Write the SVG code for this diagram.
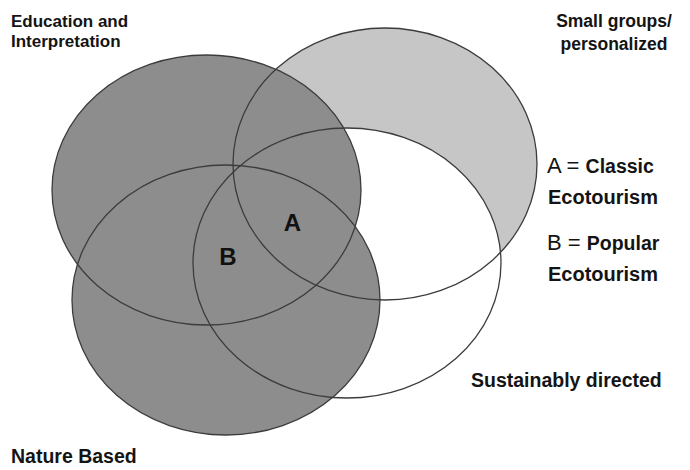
<svg xmlns="http://www.w3.org/2000/svg" xmlns:xlink="http://www.w3.org/1999/xlink" width="690" height="470" viewBox="0 0 690 470">
<style>
.lbl{font-family:"Liberation Sans",Arial,sans-serif;font-weight:bold;fill:#141414}
.big{font-family:"Liberation Sans",Arial,sans-serif;font-weight:bold;fill:#111;font-size:24px;text-anchor:middle}
.eq{font-family:"Liberation Sans",Arial,sans-serif;font-weight:normal;fill:#141414;font-size:22px}
.dark{fill:#8d8d8d}
.light{fill:#c6c6c6}
.white{fill:#ffffff}
.outline{fill:none;stroke:#3c3c3c;stroke-width:1.3}
</style>
<defs>
<ellipse id="e-small" cx="385" cy="164" rx="152" ry="136"/>
<ellipse id="e-sust" cx="347" cy="263" rx="154" ry="135"/>
<ellipse id="e-edu" cx="206.5" cy="190" rx="154.5" ry="135"/>
<ellipse id="e-nat" cx="226" cy="300" rx="154" ry="135"/>
</defs>
<rect x="0" y="0" width="690" height="470" fill="#ffffff"/>
<g id="small-groups">
<use xlink:href="#e-small" class="light"/>
<text class="lbl" font-size="17.5" text-anchor="middle"><tspan x="614" y="27">Small groups/</tspan><tspan x="614" y="50">personalized</tspan></text>
</g>
<g id="sustainably-directed">
<use xlink:href="#e-sust" class="white"/>
<text class="lbl" font-size="19.5" x="471" y="387">Sustainably directed</text>
</g>
<g id="education">
<use xlink:href="#e-edu" class="dark"/>
<text class="lbl" font-size="17"><tspan x="11" y="27">Education and</tspan><tspan x="11" y="47">Interpretation</tspan></text>
</g>
<g id="nature-based">
<use xlink:href="#e-nat" class="dark"/>
<text class="lbl" font-size="19.5" x="11" y="463">Nature Based</text>
</g>
<g id="connectors">
<use xlink:href="#e-small" class="outline"/>
<use xlink:href="#e-sust" class="outline"/>
<use xlink:href="#e-edu" class="outline"/>
<use xlink:href="#e-nat" class="outline"/>
</g>
<g id="region-A">
<text class="big" x="292.5" y="231">A</text>
</g>
<g id="region-B">
<text class="big" x="228" y="265">B</text>
</g>
<g id="legend">
<text x="547" y="173"><tspan class="eq">A = </tspan><tspan class="lbl" font-size="19.5">Classic</tspan></text>
<text class="lbl" font-size="20" x="548" y="204">Ecotourism</text>
<text x="547" y="250"><tspan class="eq">B = </tspan><tspan class="lbl" font-size="19.5">Popular</tspan></text>
<text class="lbl" font-size="20" x="548" y="281">Ecotourism</text>
</g>
</svg>
